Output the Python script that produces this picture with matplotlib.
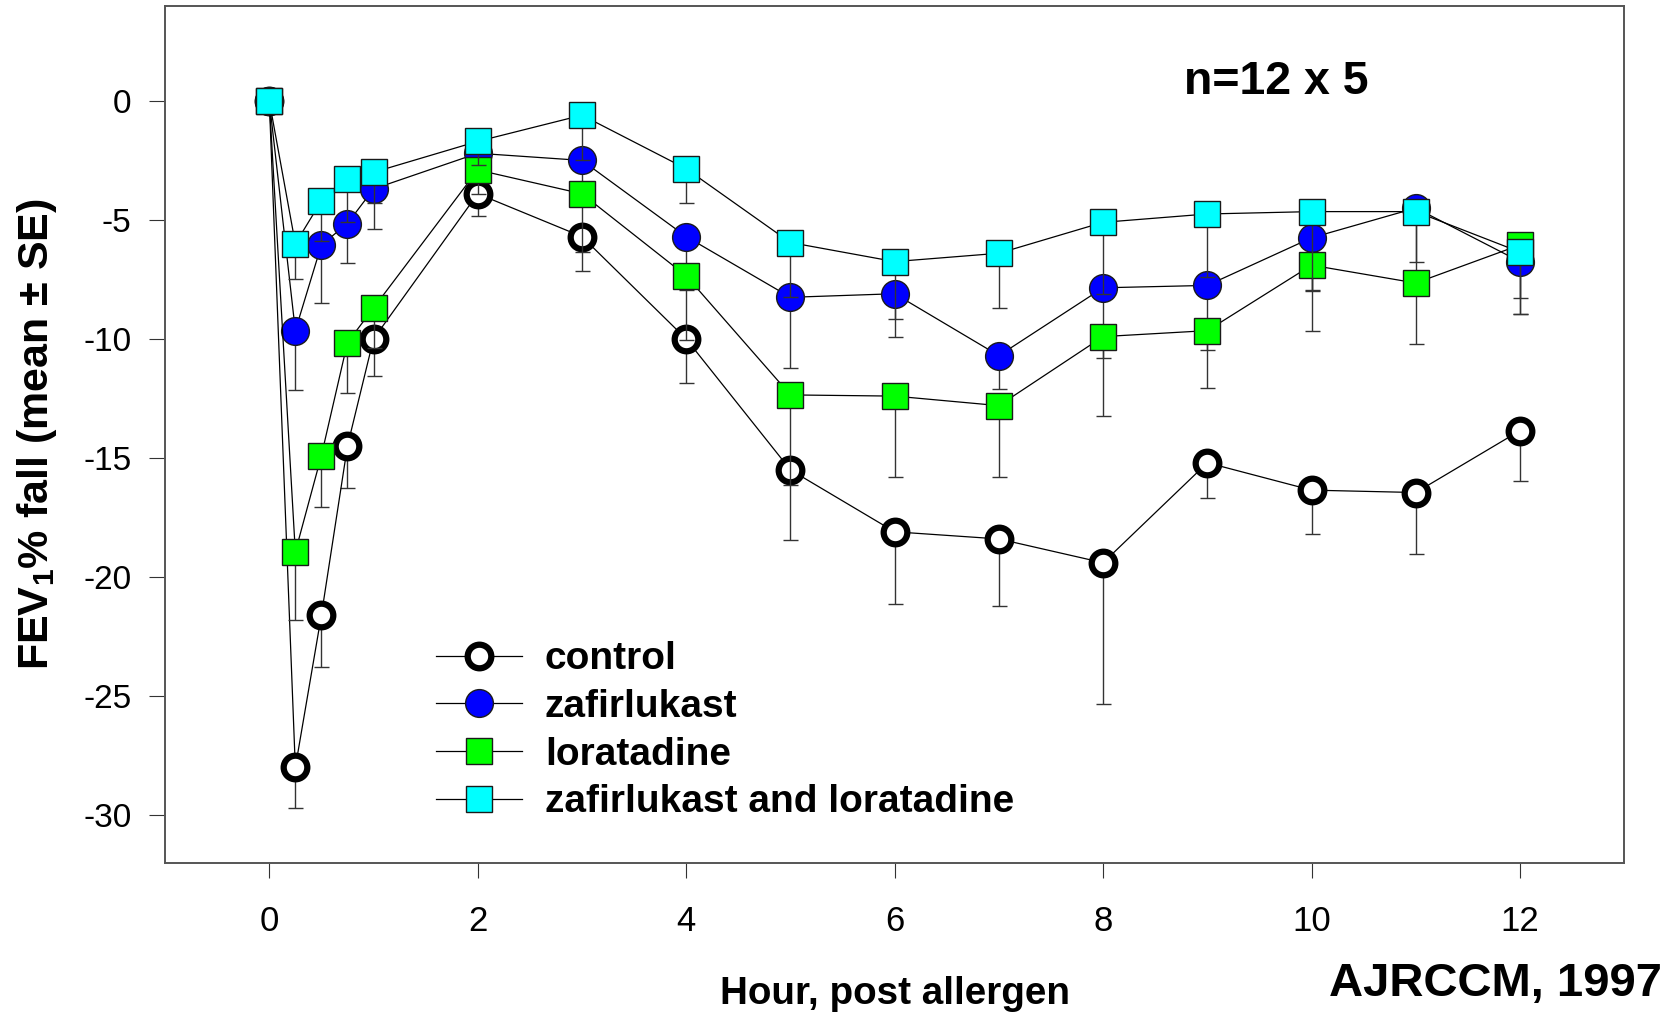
import matplotlib
matplotlib.use("Agg")
import matplotlib.pyplot as plt
import numpy as np

plt.rcParams['font.family'] = ['Liberation Sans', 'DejaVu Sans']
plt.rcParams['mathtext.fontset'] = 'custom'
plt.rcParams['mathtext.rm'] = 'Liberation Sans'
plt.rcParams['mathtext.bf'] = 'Liberation Sans:bold'
plt.rcParams['axes.unicode_minus'] = False

# hours after allergen challenge
hours = [0, 0.25, 0.5, 0.75, 1, 2, 3, 4, 5, 6, 7, 8, 9, 10, 11, 12]

# FEV1 % fall, mean and SE (only the lower bar is drawn)
control_mean = [0, -28.0, -21.6, -14.5, -10.0, -3.9, -5.7, -10.0, -15.5, -18.1, -18.4, -19.4, -15.2, -16.35, -16.45, -13.85]
control_se = [0, 1.7, 2.2, 1.75, 1.55, 0.95, 1.45, 1.85, 2.95, 3.05, 2.8, 5.95, 1.5, 1.85, 2.6, 2.1]

zafir_mean = [0, -9.65, -6.05, -5.15, -3.7, -2.2, -2.5, -5.7, -8.25, -8.1, -10.7, -7.85, -7.75, -5.75, -4.5, -6.75]
zafir_se = [0, 2.5, 2.45, 1.65, 1.7, 0.5, 1.3, 2.25, 2.95, 1.8, 1.4, 2.95, 2.7, 2.25, 3.2, 2.2]

lora_mean = [0, -18.95, -14.9, -10.15, -8.7, -2.9, -3.9, -7.35, -12.35, -12.4, -12.8, -9.9, -9.65, -6.9, -7.65, -6.05]
lora_se = [0, 2.85, 2.15, 2.1, 1.7, 1.0, 2.45, 2.7, 3.8, 3.4, 3.0, 3.35, 2.4, 2.75, 2.55, 2.9]

combo_mean = [0, -6.0, -4.2, -3.3, -3.0, -1.7, -0.6, -2.85, -5.95, -6.75, -6.4, -5.1, -4.75, -4.65, -4.65, -6.35]
combo_se = [0, 1.5, 1.7, 1.8, 1.3, 1.0, 1.9, 1.45, 2.3, 2.4, 2.3, 3.0, 2.65, 3.3, 2.1, 1.95]

labels = ['control', 'zafirlukast', 'loratadine', 'zafirlukast and loratadine']
x_ticks = [0, 2, 4, 6, 8, 10, 12]
y_ticks = [0, -5, -10, -15, -20, -25, -30]

fig = plt.figure(figsize=(16.79, 10.14), dpi=100)
ax = fig.add_axes([0.0983, 0.1492, 0.8691, 0.8452])

series = [
    (control_mean, control_se, dict(marker='o', ms=17, mfc='white', mec='black', mew=4.5)),
    (zafir_mean, zafir_se, dict(marker='o', ms=20, mfc='#0000ff', mec='#1a1a1a', mew=1.0)),
    (lora_mean, lora_se, dict(marker='s', ms=18.5, mfc='#00ff00', mec='#1a1a1a', mew=1.0)),
    (combo_mean, combo_se, dict(marker='s', ms=18.5, mfc='#00ffff', mec='#1a1a1a', mew=1.0)),
]

for i, (mean, se, style) in enumerate(series):
    z = 2 + i
    lower = np.array(se)
    upper = np.zeros(len(se))
    ax.errorbar(hours, mean, yerr=[lower, upper], fmt='none', ecolor='#333333',
                elinewidth=1.0, capsize=5.4, capthick=1.0, zorder=z)
    ax.plot(hours, mean, color='black', lw=0.9, label=labels[i], zorder=z + 0.5, **style)

ax.set_xlim(-1, 13)
ax.set_ylim(-32, 4)
ax.set_xticks(x_ticks)
ax.set_yticks(y_ticks)
ax.tick_params(axis='x', direction='out', length=10.8, width=0.8, pad=20, labelsize=25, color='#333333')
ax.tick_params(axis='y', direction='out', length=11.3, width=0.8, pad=13, labelsize=24, color='#333333')
for sp in ax.spines.values():
    sp.set_linewidth(1.4)
    sp.set_color('#555555')

ax.set_xlabel('Hour, post allergen', fontsize=27.8, fontweight='bold')
ax.xaxis.set_label_coords(0.5, -0.132)
ax.set_ylabel('FEV$_\\mathbf{1}$% fall (mean ± SE)', fontsize=31, fontweight='bold')
ax.yaxis.set_label_coords(-0.073, 0.5)

ax.text(9.66, 0.28, 'n=12 x 5', fontsize=33.5, fontweight='bold', ha='center', va='baseline')
fig.text(0.990, 0.018, 'AJRCCM, 1997', fontsize=34, fontweight='bold', ha='right', va='baseline')

leg = ax.legend(loc='upper left', bbox_to_anchor=(0.1857, 0.2582), frameon=False,
                borderpad=0, borderaxespad=0, handlelength=2.21, handletextpad=0.59,
                labelspacing=0.3, numpoints=1, prop={'size': 28, 'weight': 'bold'})

fig.savefig('out.png', dpi=100)
